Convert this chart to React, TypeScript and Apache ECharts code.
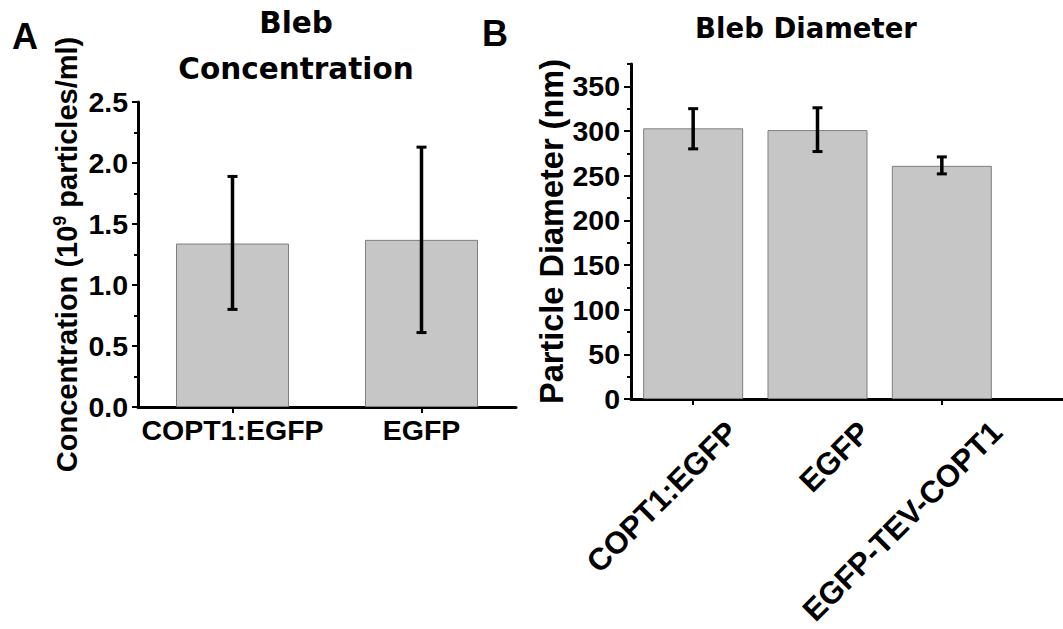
import React, { useEffect, useRef } from 'react';
import * as echarts from 'echarts';

// Panel A data
const catsA = ['COPT1:EGFP', 'EGFP'];
const meanA = [1.34, 1.37];
const lowA = [0.8, 0.61];
const highA = [1.89, 2.13];

// Panel B data
const catsB = ['COPT1:EGFP', 'EGFP', 'EGFP-TEV-COPT1'];
const meanB = [303, 301, 261];
const lowB = [280, 277, 252];
const highB = [325, 326, 271];
const majorTicksB = [0, 50, 100, 150, 200, 250, 300, 350];

const AX_FONT = 'Liberation Sans, Arial, Helvetica, sans-serif';
const TITLE_FONT = 'DejaVu Sans, sans-serif';

const errRender = (params: any, api: any) => {
  const i = api.value(0);
  const lo = api.coord([i, api.value(1)]);
  const hi = api.coord([i, api.value(2)]);
  const w = 5;
  const st = { stroke: '#000', lineWidth: 3.5 };
  return {
    type: 'group',
    children: [
      { type: 'line', shape: { x1: hi[0], y1: hi[1], x2: lo[0], y2: lo[1] }, style: st },
      { type: 'line', shape: { x1: hi[0] - w, y1: hi[1], x2: hi[0] + w, y2: hi[1] }, style: { stroke: '#000', lineWidth: 3 } },
      { type: 'line', shape: { x1: lo[0] - w, y1: lo[1], x2: lo[0] + w, y2: lo[1] }, style: { stroke: '#000', lineWidth: 3 } },
    ],
  };
};

const axLine = { show: true, lineStyle: { color: '#000', width: 3 } };
const lbl = (size: number) => ({ color: '#000', fontFamily: AX_FONT, fontWeight: 'bold' as const, fontSize: size });

export default function App() {
  const ref = useRef<HTMLDivElement>(null);
  useEffect(() => {
    document.body.style.margin = '0';
    if (!ref.current) return;
    const chart = echarts.init(ref.current, null, { renderer: 'svg' });
    const option: any = {
      animation: false,
      backgroundColor: '#fff',
      title: [
        {
          text: 'Bleb\nConcentration',
          left: 296,
          top: 0,
          padding: 0,
          textAlign: 'center',
          textStyle: { fontFamily: TITLE_FONT, fontWeight: 'bold', fontSize: 29.5, lineHeight: 46, color: '#000' },
        },
        {
          text: 'Bleb Diameter',
          left: 806,
          top: 14,
          padding: 0,
          textAlign: 'center',
          textStyle: { fontFamily: TITLE_FONT, fontWeight: 'bold', fontSize: 27.5, lineHeight: 28, color: '#000' },
        },
      ],
      graphic: [
        { type: 'text', x: 12, y: 36, style: { text: 'A', fontFamily: AX_FONT, fontWeight: 'bold', fontSize: 36, fill: '#000', textVerticalAlign: 'middle' } },
        { type: 'text', x: 482, y: 33, style: { text: 'B', fontFamily: AX_FONT, fontWeight: 'bold', fontSize: 36, fill: '#000', textVerticalAlign: 'middle' } },
      ],
      grid: [
        { left: 138, top: 102, width: 378, height: 305 },
        { left: 631, top: 64, width: 373, height: 335 },
        { left: 666, top: 64, width: 423, height: 335 },
      ],
      xAxis: [
        {
          gridIndex: 0,
          type: 'category',
          data: catsA,
          axisLine: axLine,
          axisTick: { show: true, alignWithLabel: true, length: 6, lineStyle: { color: '#000', width: 2 } },
          axisLabel: { ...lbl(28.5), margin: 8, interval: 0 },
          splitLine: { show: false },
        },
        {
          gridIndex: 1,
          type: 'category',
          data: catsB,
          axisLine: axLine,
          axisTick: { show: true, alignWithLabel: true, length: 6, lineStyle: { color: '#000', width: 2 } },
          axisLabel: { show: false },
          splitLine: { show: false },
        },
        {
          gridIndex: 2,
          type: 'category',
          data: catsB,
          axisLine: axLine,
          axisTick: { show: false },
          axisLabel: { ...lbl(31), rotate: 45, margin: 28, interval: 0 },
          splitLine: { show: false },
        },
      ],
      yAxis: [
        {
          gridIndex: 0,
          type: 'value',
          min: 0,
          max: 2.5,
          interval: 0.5,
          axisLine: axLine,
          axisTick: { show: true, length: 6, lineStyle: { color: '#000', width: 2 } },
          minorTick: { show: true, splitNumber: 2, length: 4, lineStyle: { color: '#000', width: 2 } },
          splitLine: { show: false },
          axisLabel: { ...lbl(28.5), margin: 10, formatter: (v: number) => v.toFixed(1) },
          name: '{n|Concentration (10}{s|9}{n| particles/ml)}',
          nameLocation: 'middle',
          nameRotate: 90,
          nameGap: 56,
          nameTextStyle: {
            rich: {
              n: { fontFamily: AX_FONT, fontWeight: 'bold', fontSize: 29, color: '#000', lineHeight: 31 },
              s: { fontFamily: AX_FONT, fontWeight: 'bold', fontSize: 18, color: '#000', verticalAlign: 'top' },
            },
          },
        },
        {
          gridIndex: 1,
          type: 'value',
          min: 0,
          max: 375,
          interval: 25,
          axisLine: axLine,
          axisTick: { show: true, length: 4, lineStyle: { color: '#000', width: 2 } },
          splitLine: { show: false },
          axisLabel: { ...lbl(28.5), margin: 11, formatter: (v: number) => (v % 50 === 0 ? String(v) : '') },
          name: 'Particle Diameter (nm)',
          nameLocation: 'middle',
          nameRotate: 90,
          nameGap: 62,
          nameTextStyle: { fontFamily: AX_FONT, fontWeight: 'bold', fontSize: 32.5, color: '#000' },
        },
        { gridIndex: 2, type: 'value', min: 0, max: 375, show: false },
        {
          gridIndex: 1,
          type: 'value',
          position: 'left',
          offset: 0,
          min: 0,
          max: 375,
          interval: 50,
          axisLine: { show: false },
          axisTick: { show: true, length: 7, customValues: majorTicksB, lineStyle: { color: '#000', width: 2 } },
          axisLabel: { show: false },
          splitLine: { show: false },
        },
      ],
      series: [
        {
          type: 'bar',
          xAxisIndex: 0,
          yAxisIndex: 0,
          data: meanA,
          barWidth: 113,
          itemStyle: { color: '#c6c6c6', borderColor: '#7f7f7f', borderWidth: 1 },
        },
        {
          type: 'custom',
          xAxisIndex: 0,
          yAxisIndex: 0,
          renderItem: errRender,
          encode: { x: 0, y: [1, 2] },
          data: lowA.map((l, i) => [i, l, highA[i]]),
          z: 5,
        },
        {
          type: 'bar',
          xAxisIndex: 1,
          yAxisIndex: 1,
          data: meanB,
          barWidth: 100,
          itemStyle: { color: '#c6c6c6', borderColor: '#7f7f7f', borderWidth: 1 },
        },
        {
          type: 'custom',
          xAxisIndex: 1,
          yAxisIndex: 1,
          renderItem: errRender,
          encode: { x: 0, y: [1, 2] },
          data: lowB.map((l, i) => [i, l, highB[i]]),
          z: 5,
        },
      ],
    };
    chart.setOption(option);
    return () => chart.dispose();
  }, []);
  return <div ref={ref} style={{ width: 1063, height: 629 }} />;
}
